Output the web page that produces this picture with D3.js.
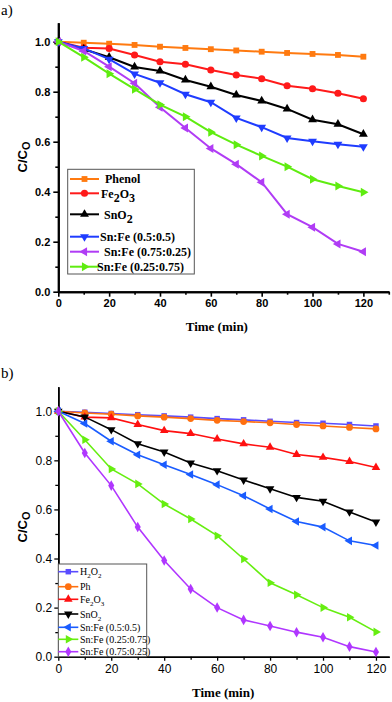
<!DOCTYPE html>
<html>
<head>
<meta charset="utf-8">
<script src="https://cdn.jsdelivr.net/npm/d3@7"></script>
<style>
  body { margin: 0; background: #fff; }
  svg { display: block; }
</style>
</head>
<body>
<svg id="chart"></svg>
<script>
// ---- data ----
const time = [0, 10, 20, 30, 40, 50, 60, 70, 80, 90, 100, 110, 120];

// panel a
const aPhenol = [1.0, 0.996, 0.992, 0.987, 0.98, 0.975, 0.97, 0.965, 0.96, 0.955, 0.951, 0.947, 0.94];
const aFe2O3 = [1.0, 0.976, 0.973, 0.947, 0.92, 0.91, 0.887, 0.867, 0.852, 0.824, 0.812, 0.794, 0.772];
const aSnO2 = [1.0, 0.97, 0.938, 0.899, 0.883, 0.847, 0.82, 0.787, 0.763, 0.731, 0.688, 0.67, 0.63];
const aSnFe55 = [1.0, 0.973, 0.93, 0.871, 0.836, 0.79, 0.758, 0.695, 0.658, 0.615, 0.602, 0.59, 0.58];
const aSnFe7525 = [1.0, 0.963, 0.9, 0.834, 0.738, 0.655, 0.573, 0.51, 0.438, 0.31, 0.258, 0.191, 0.16];
const aSnFe2575 = [1.0, 0.938, 0.872, 0.81, 0.748, 0.7, 0.638, 0.588, 0.543, 0.5, 0.45, 0.423, 0.398];

// panel b
const bH2O2 = [1.0, 0.996, 0.991, 0.986, 0.981, 0.976, 0.97, 0.965, 0.959, 0.954, 0.951, 0.946, 0.94];
const bPh = [1.0, 0.993, 0.988, 0.981, 0.976, 0.97, 0.963, 0.958, 0.953, 0.946, 0.94, 0.934, 0.928];
const bFe2O3 = [1.0, 0.976, 0.973, 0.946, 0.921, 0.909, 0.887, 0.867, 0.853, 0.824, 0.812, 0.795, 0.771];
const bSnO2 = [1.0, 0.977, 0.925, 0.868, 0.834, 0.789, 0.758, 0.72, 0.684, 0.649, 0.633, 0.59, 0.549];
const bSnFe55 = [1.0, 0.95, 0.878, 0.823, 0.782, 0.742, 0.701, 0.656, 0.602, 0.551, 0.528, 0.472, 0.453];
const bSnFe2575 = [1.0, 0.884, 0.765, 0.704, 0.622, 0.561, 0.493, 0.398, 0.301, 0.252, 0.2, 0.161, 0.101];
const bSnFe7525 = [1.0, 0.83, 0.697, 0.528, 0.392, 0.276, 0.2, 0.15, 0.125, 0.1, 0.079, 0.041, 0.019];

// legend labels ("_x" = subscript)
const aLabels = ["Phenol", "Fe_2O_3", "SnO_2", "Sn:Fe (0.5:0.5)", "Sn:Fe (0.75:0.25)", "Sn:Fe (0.25:0.75)"];
const bLabels = ["H_2O_2", "Ph", "Fe_2O_3", "SnO_2", "Sn:Fe (0.5:0.5)", "Sn:Fe (0.25:0.75)", "Sn:Fe (0.75:0.25)"];

const xMajor = [0, 20, 40, 60, 80, 100, 120];
const yMajor = [0.0, 0.2, 0.4, 0.6, 0.8, 1.0];

// ---- drawing ----
const width = 392, height = 702;
const svg = d3.select("#chart").attr("width", width).attr("height", height);

// marker shapes
const shapes = {
  square: { type: d3.symbolSquare, rot: 0 },
  circle: { type: d3.symbolCircle, rot: 0 },
  up: { type: d3.symbolTriangle, rot: 0 },
  down: { type: d3.symbolTriangle, rot: 180 },
  left: { type: d3.symbolTriangle, rot: -90 },
  right: { type: d3.symbolTriangle, rot: 90 },
  diamond: { type: d3.symbolDiamond, rot: 0 },
};

// writes "Fe_2O_3" style text into a text element with subscripts
function richText(sel, str, subShift, subSize) {
  const parts = str.split(/(_\w)/).filter((p) => p.length);
  let lowered = false;
  parts.forEach((p) => {
    if (p[0] === "_") {
      sel.append("tspan")
        .attr("dy", lowered ? 0 : subShift)
        .attr("font-size", subSize)
        .text(p.slice(1));
      lowered = true;
    } else {
      sel.append("tspan").attr("dy", lowered ? -subShift : 0).text(p);
      lowered = false;
    }
  });
}

function drawPanel(cfg) {
  const x = d3.scaleLinear().domain(cfg.xDomain).range(cfg.xRange);
  const y = d3.scaleLinear().domain(cfg.yDomain).range(cfg.yRange);
  const g = svg.append("g");

  // axes: major + minor ticks
  const xAxis = d3.axisBottom(x).tickValues(xMajor).tickSize(cfg.tickLen).tickSizeOuter(0).tickPadding(cfg.xPad);
  const xMinor = d3.axisBottom(x).tickValues(cfg.xMinor).tickSize(cfg.minorLen).tickSizeOuter(0).tickFormat("");
  const yAxis = d3.axisLeft(y).tickValues(yMajor).tickSize(cfg.tickLen).tickSizeOuter(0).tickPadding(cfg.yPad)
    .tickFormat(d3.format(".1f"));
  const yMinor = d3.axisLeft(y).tickValues(cfg.yMinor).tickSize(cfg.minorLen).tickSizeOuter(0).tickFormat("");

  [[xAxis, true], [xMinor, true], [yAxis, false], [yMinor, false]].forEach(([ax, isX]) => {
    const a = g.append("g")
      .attr("transform", isX ? `translate(0,${cfg.yRange[0]})` : `translate(${cfg.xRange[0]},0)`)
      .call(ax);
    a.select(".domain").attr("stroke", "#000").attr("stroke-width", cfg.axisWidth);
    a.selectAll(".tick line").attr("stroke", "#000").attr("stroke-width", cfg.axisWidth * 0.8);
    a.selectAll(".tick text")
      .attr("fill", "#000")
      .attr("font-family", "Liberation Sans, Arial, sans-serif")
      .attr("font-size", cfg.tickFont)
      .attr("font-weight", cfg.tickWeight);
  });

  // series lines and markers
  const line = d3.line().x((d, i) => x(time[i])).y((d) => y(d));
  cfg.series.forEach((s) => {
    g.append("path")
      .attr("d", line(s.values))
      .attr("fill", "none")
      .attr("stroke", s.color)
      .attr("stroke-width", cfg.lineWidth);
    const sh = shapes[s.shape];
    g.selectAll(null)
      .data(s.values)
      .join("path")
      .attr("transform", (d, i) => `translate(${x(time[i])},${y(d)}) rotate(${sh.rot})`)
      .attr("d", d3.symbol().type(sh.type).size(cfg.markerSize[s.shape]))
      .attr("fill", s.color);
  });

  // legend
  const L = cfg.legend;
  g.append("rect")
    .attr("x", L.x).attr("y", L.y).attr("width", L.w).attr("height", L.h)
    .attr("fill", "#fff").attr("stroke", "#555").attr("stroke-width", 1);
  cfg.series.forEach((s, i) => {
    const ry = L.rows[i];
    g.append("line")
      .attr("x1", L.lineX[0]).attr("x2", L.lineX[1]).attr("y1", ry).attr("y2", ry)
      .attr("stroke", s.color).attr("stroke-width", cfg.lineWidth);
    const sh = shapes[s.shape];
    g.append("path")
      .attr("transform", `translate(${(L.lineX[0] + L.lineX[1]) / 2},${ry}) rotate(${sh.rot})`)
      .attr("d", d3.symbol().type(sh.type).size(cfg.markerSize[s.shape]))
      .attr("fill", s.color);
    const t = g.append("text")
      .attr("x", L.textX[i])
      .attr("y", ry + L.font * 0.35)
      .attr("font-family", "Liberation Serif, Times New Roman, serif")
      .attr("font-size", L.font)
      .attr("font-weight", L.weight)
      .attr("fill", "#000");
    richText(t, cfg.labels[i], L.subShift, L.subSize);
  });

  // axis titles
  g.append("text")
    .attr("x", (cfg.xRange[0] + x(120)) / 2 + 6)
    .attr("y", cfg.xTitleY)
    .attr("text-anchor", "middle")
    .attr("font-family", "Liberation Serif, Times New Roman, serif")
    .attr("font-weight", "bold")
    .attr("font-size", 13)
    .text("Time (min)");

  const yt = g.append("text")
    .attr("transform", `translate(${cfg.yTitleX},${cfg.yTitleY}) rotate(-90)`)
    .attr("text-anchor", "middle")
    .attr("font-family", "Liberation Sans, Arial, sans-serif")
    .attr("font-weight", "bold")
    .attr("font-size", 13);
  richText(yt, "C/C_O", 3, 11);

  g.append("text")
    .attr("x", 1).attr("y", cfg.panelLabelY)
    .attr("font-family", "Liberation Serif, Times New Roman, serif")
    .attr("font-size", 15)
    .text(cfg.panelLabel);
}

drawPanel({
  panelLabel: "a)",
  panelLabelY: 15,
  xDomain: [0, 130], xRange: [58.3, 388.8],
  yDomain: [0, 1.076], yRange: [291.7, 22.7],
  xMinor: [10, 30, 50, 70, 90, 110, 130],
  yMinor: [0.1, 0.3, 0.5, 0.7, 0.9],
  tickLen: 5, minorLen: 3, xPad: 3, yPad: 3,
  axisWidth: 2, tickFont: 11, tickWeight: "bold",
  lineWidth: 2,
  markerSize: { square: 34, circle: 40, up: 34, down: 34, left: 34, right: 34, diamond: 34 },
  xTitleY: 331, yTitleX: 27, yTitleY: 157,
  labels: aLabels,
  series: [
    { values: aPhenol, color: "#ff7a10", shape: "square" },
    { values: aFe2O3, color: "#ff1a1a", shape: "circle" },
    { values: aSnO2, color: "#000000", shape: "up" },
    { values: aSnFe55, color: "#1f3cff", shape: "down" },
    { values: aSnFe7525, color: "#b03cf5", shape: "left" },
    { values: aSnFe2575, color: "#5fec10", shape: "right" },
  ],
  legend: {
    x: 67.7, y: 169.3, w: 126.6, h: 104.7,
    rows: [179, 193.3, 214.3, 236.7, 251.7, 266.7],
    lineX: [70, 99],
    textX: [105, 101, 104, 100, 104, 97],
    font: 12, weight: "bold", subShift: 4, subSize: 12,
  },
});

drawPanel({
  panelLabel: "b)",
  panelLabelY: 378,
  xDomain: [0, 125], xRange: [58.3, 389.2],
  yDomain: [0, 1.1], yRange: [656.7, 386.7],
  xMinor: [10, 30, 50, 70, 90, 110],
  yMinor: [0.1, 0.3, 0.5, 0.7, 0.9],
  tickLen: 4, minorLen: 3, xPad: 4, yPad: 2,
  axisWidth: 1.6, tickFont: 12, tickWeight: "normal",
  lineWidth: 1.6,
  markerSize: { square: 30, circle: 36, up: 32, down: 32, left: 32, right: 32, diamond: 32 },
  xTitleY: 697, yTitleX: 27, yTitleY: 527,
  labels: bLabels,
  series: [
    { values: bH2O2, color: "#5a4cff", shape: "square" },
    { values: bPh, color: "#ff7010", shape: "circle" },
    { values: bFe2O3, color: "#ff1010", shape: "up" },
    { values: bSnO2, color: "#000000", shape: "down" },
    { values: bSnFe55, color: "#1a5cff", shape: "left" },
    { values: bSnFe2575, color: "#66ee10", shape: "right" },
    { values: bSnFe7525, color: "#b036ff", shape: "diamond" },
  ],
  legend: {
    x: 58.3, y: 564, w: 88.4, h: 92.7,
    rows: [571.7, 586.7, 599.3, 614, 627.3, 639.3, 651.7],
    lineX: [58.3, 78.3],
    textX: [80, 80, 80, 80, 80, 80, 80],
    font: 10, weight: "normal", subShift: 3, subSize: 7,
  },
});
</script>
</body>
</html>
